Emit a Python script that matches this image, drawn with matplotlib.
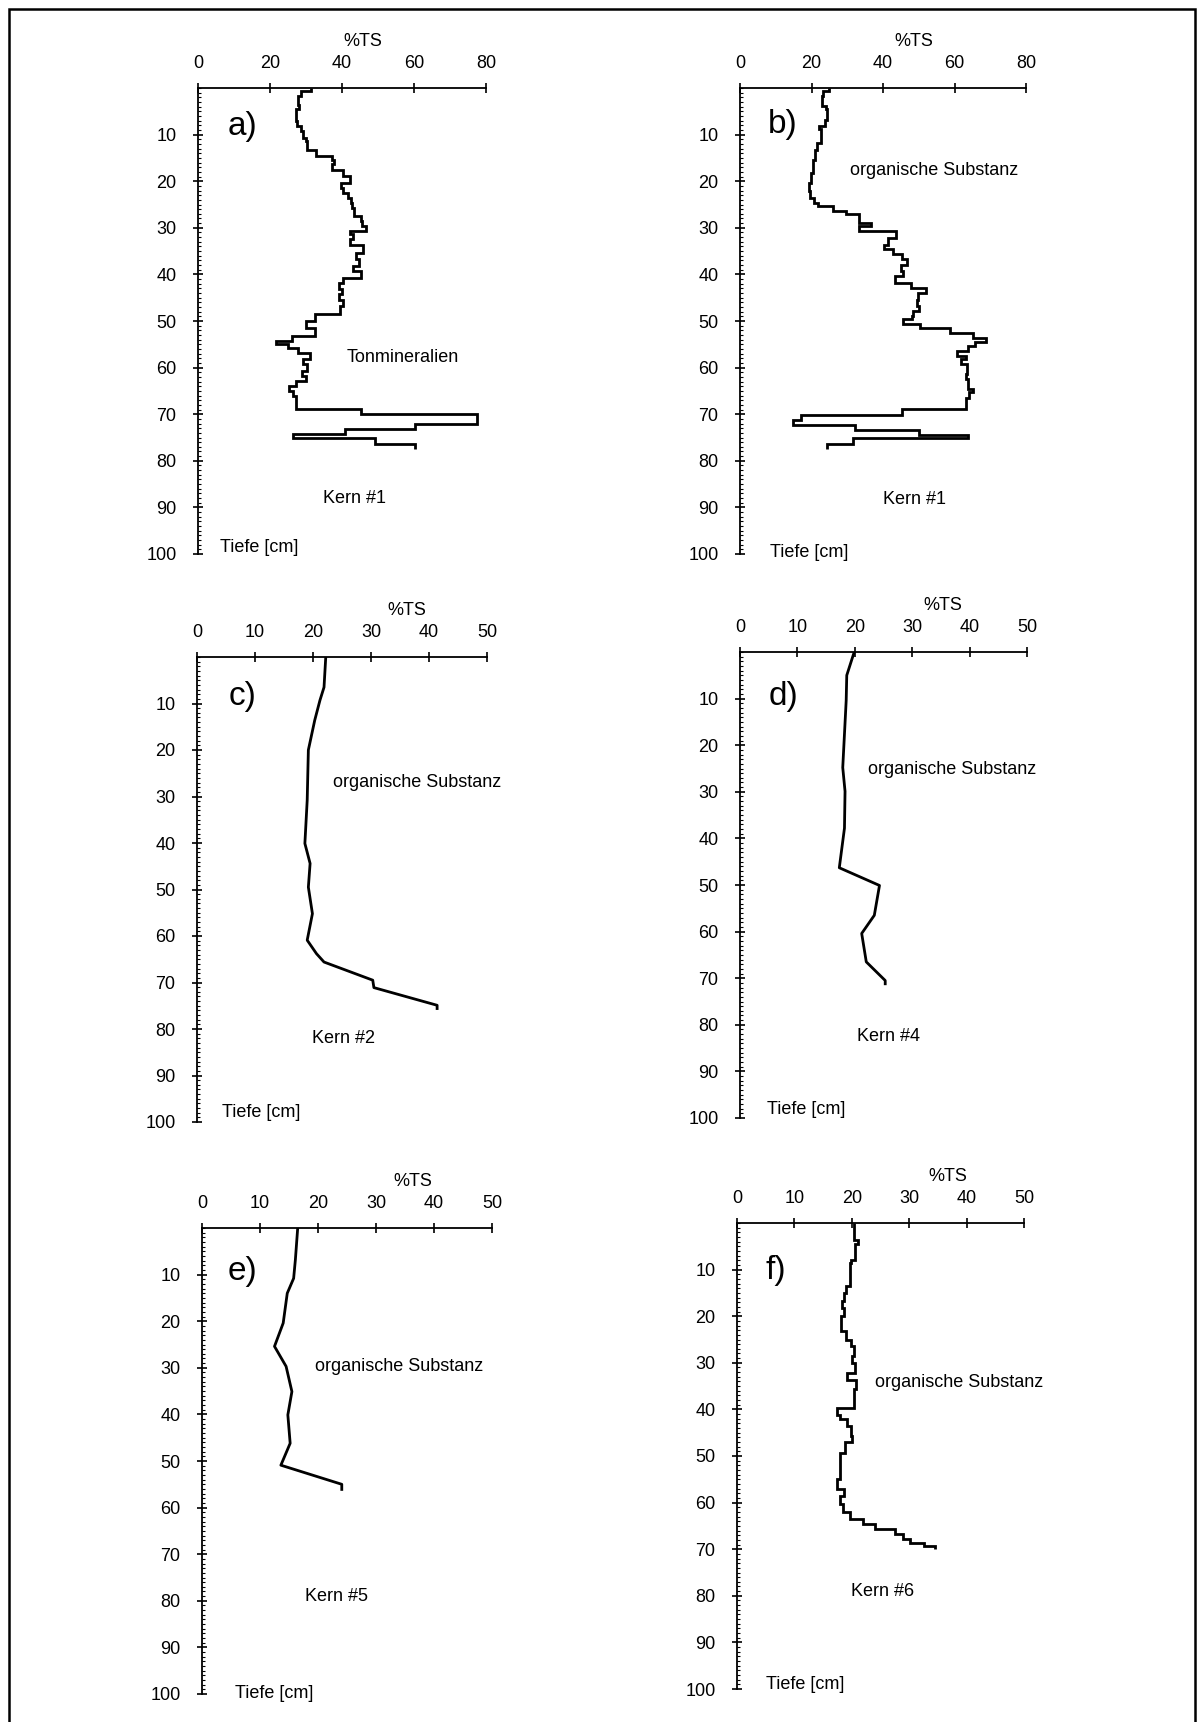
import numpy as np
import matplotlib
matplotlib.use("Agg")
import matplotlib.pyplot as plt
from matplotlib.ticker import MultipleLocator
from matplotlib.patches import Rectangle

plt.rcParams['font.family'] = ['Liberation Sans', 'DejaVu Sans']

# --- data: %TS against depth [cm] ---

# a) Kern #1, Tonmineralien (step profile: layer edges + value per layer)
a_edges = [0, 0.7, 1.8, 3.6, 4.6, 7.1, 8.2, 9.3, 10.7, 11.4,
           13.2, 14.6, 15.4, 16.4, 17.5, 18.9, 20.4, 21.4, 22.5, 23.6,
           24.6, 25.7, 27.5, 28.6, 29.6, 30.7, 31.4, 32.5, 33.6, 35.4,
           36.8, 38.2, 39.3, 40.7, 41.8, 43.2, 44.3, 45.4, 46.8, 48.6,
           50.0, 51.4, 53.2, 54.3, 55.0, 55.7, 56.8, 58.2, 59.3, 60.7,
           61.8, 62.9, 63.9, 65.0, 66.1, 68.9, 70.0, 72.1, 73.2, 74.3,
           75.0, 76.3, 77.5]
a_values = [31.5, 28.7, 27.8, 28.0, 27.2, 27.5, 28.5, 29.2, 29.9, 30.3,
            32.9, 37.1, 37.7, 37.1, 40.3, 42.2, 39.6, 40.3, 41.7, 42.4,
            42.9, 43.3, 45.4, 45.6, 46.6, 42.2, 43.1, 42.2, 45.9, 43.8,
            44.7, 43.1, 45.4, 40.3, 39.2, 40.1, 39.2, 40.3, 39.4, 32.4,
            30.1, 32.4, 26.0, 21.8, 25.0, 27.8, 31.0, 29.2, 30.4, 29.0,
            30.1, 27.3, 25.3, 26.4, 27.3, 45.4, 77.6, 60.2, 40.8, 26.4,
            49.1, 60.2]

# b) Kern #1, organische Substanz (step profile)
b_edges = [0, 0.7, 1.8, 3.9, 4.6, 6.8, 8.2, 8.9, 11.8, 13.2,
           15.4, 18.2, 20.4, 22.1, 23.6, 24.6, 25.4, 26.4, 27.1, 28.9,
           29.6, 30.7, 32.1, 33.6, 34.6, 35.7, 36.8, 37.9, 39.3, 40.4,
           41.8, 42.9, 44.0, 45.4, 46.8, 47.9, 49.0, 49.6, 50.7, 51.4,
           52.5, 53.6, 54.6, 55.4, 56.4, 57.5, 58.2, 59.3, 61.4, 62.5,
           64.5, 65.2, 66.6, 68.8, 70.2, 71.3, 72.4, 73.4, 74.4, 75.2,
           76.5, 77.4]
b_values = [25.0, 23.3, 22.8, 24.1, 24.4, 23.8, 22.2, 22.6, 21.6, 21.0,
            20.3, 19.8, 19.4, 19.6, 20.8, 21.9, 25.9, 29.7, 33.4, 36.6,
            33.4, 43.6, 41.5, 40.3, 42.7, 45.2, 46.6, 45.0, 45.7, 43.4,
            47.7, 52.0, 49.9, 49.4, 50.1, 48.5, 48.0, 45.5, 50.3, 58.7,
            65.3, 68.8, 65.7, 63.9, 60.8, 63.2, 61.7, 63.6, 63.2, 63.9,
            65.1, 64.1, 63.2, 45.2, 17.0, 14.9, 32.2, 50.2, 63.9, 31.7,
            24.4]

# c) Kern #2 (line profile)
c_depth = [0, 6.5, 9.3, 13.6, 20.0, 30.8, 40.1, 44.4, 49.5, 55.2, 60.9, 63.8, 65.6, 69.5, 71.1, 74.9, 75.6]
c_values = [22.2, 21.9, 21.2, 20.3, 19.2, 19.0, 18.6, 19.5, 19.2, 19.9, 19.0, 20.6, 21.9, 30.3, 30.5, 41.4, 41.4]

# d) Kern #4
d_depth = [0, 5.0, 10.4, 24.8, 29.9, 37.8, 46.3, 50.1, 56.5, 60.4, 66.5, 70.5, 71.2]
d_values = [19.9, 18.6, 18.5, 17.9, 18.3, 18.2, 17.3, 24.3, 23.4, 21.2, 22.0, 25.3, 25.3]

# e) Kern #5
e_depth = [0, 6.8, 10.8, 14.0, 20.4, 25.4, 29.7, 35.1, 40.1, 46.2, 50.9, 55.0, 56.1]
e_values = [16.5, 16.1, 15.8, 14.7, 14.0, 12.5, 14.5, 15.5, 14.8, 15.2, 13.6, 24.1, 24.1]

# f) Kern #6 (step profile)
f_edges = [0, 3.6, 4.6, 7.9, 8.6, 13.6, 15.0, 16.8, 18.2, 20.0,
           23.2, 25.0, 26.4, 28.6, 30.0, 32.1, 33.6, 35.7, 39.6, 41.1,
           42.1, 43.6, 45.7, 47.1, 49.3, 52.1, 55.0, 57.1, 58.6, 60.4,
           62.1, 63.6, 64.6, 65.7, 66.8, 67.9, 68.6, 69.3, 70.0]
f_values = [20.4, 21.1, 20.6, 19.9, 19.7, 19.0, 18.7, 18.3, 18.7, 18.1,
            19.0, 19.8, 20.3, 20.0, 20.5, 19.1, 20.8, 20.4, 17.4, 17.9,
            19.1, 19.8, 20.1, 18.9, 18.0, 17.9, 17.5, 18.7, 18.0, 18.4,
            19.7, 22.0, 24.1, 27.6, 28.9, 30.2, 32.5, 34.5]

depth_ticks = list(range(10, 101, 10))

W, H = 1203, 1722
fig = plt.figure(figsize=(W / 100, H / 100), dpi=100)
fig.patch.set_facecolor('white')

FS = 13


def make_axes(box, xmax, xstep):
    # box: pixel x of value 0, pixel x of xmax, pixel y of depth 0, pixel y of depth 100
    x0, x1, yt, yb = box
    ax = fig.add_axes([x0 / W, 1 - yb / H, (x1 - x0) / W, (yb - yt) / H])
    ax.set_xlim(0, xmax)
    ax.set_ylim(100, 0)
    ax.patch.set_alpha(0)
    ax.spines['right'].set_visible(False)
    ax.spines['bottom'].set_visible(False)
    ax.spines['top'].set_linewidth(1.3)
    ax.spines['left'].set_linewidth(1.3)
    ax.xaxis.tick_top()
    ax.set_xticks(np.arange(0, xmax + 1, xstep))
    ax.set_yticks(depth_ticks)
    ax.yaxis.set_minor_locator(MultipleLocator(1))
    ax.tick_params(axis='both', which='major', direction='inout', length=7,
                   width=1.2, labelsize=FS, colors='k')
    ax.tick_params(axis='y', which='major', pad=12)
    ax.tick_params(axis='x', which='major', pad=8)
    ax.tick_params(axis='y', which='minor', direction='in', length=2.5, width=0.8)
    return ax


panels = [
    # box, xmax, step, letter, letter pos, TS x, text, text pos, kern, kern pos, tiefe pos
    ((198, 486, 88, 554), 80, 20, 'a)', (8.3, 8.2), 45.7, 'Tonmineralien', (41.3, 57.9),
     'Kern #1', (34.8, 88.1), (6.1, 98.7)),
    ((740, 1026, 88, 554), 80, 20, 'b)', (7.8, 7.9), 48.6, 'organische Substanz', (30.7, 17.6),
     'Kern #1', (40.0, 88.4), (8.4, 99.7)),
    ((197, 487, 657, 1122), 50, 10, 'c)', (5.5, 8.5), 36.2, 'organische Substanz', (23.5, 27.0),
     'Kern #2', (19.8, 82.0), (4.3, 98.0)),
    ((740, 1027, 652, 1118), 50, 10, 'd)', (4.9, 9.6), 35.4, 'organische Substanz', (22.3, 25.3),
     'Kern #4', (20.3, 82.5), (4.7, 98.2)),
    ((202, 492, 1228, 1694), 50, 10, 'e)', (4.5, 9.4), 36.4, 'organische Substanz', (19.5, 29.8),
     'Kern #5', (17.8, 79.1), (5.7, 99.8)),
    ((737, 1024, 1223, 1689), 50, 10, 'f)', (4.9, 10.1), 36.8, 'organische Substanz', (24.0, 34.3),
     'Kern #6', (19.9, 79.0), (5.0, 99.0)),
]

axes = []
for box, xmax, step, letter, lpos, tsx, txt, tpos, kern, kpos, tpos2 in panels:
    ax = make_axes(box, xmax, step)
    ax.text(lpos[0], lpos[1], letter, fontsize=24, ha='left', va='center')
    ax.text(tsx, -10, '%TS', fontsize=FS, ha='center', va='center')
    ax.text(tpos[0], tpos[1], txt, fontsize=FS, ha='left', va='center')
    ax.text(kpos[0], kpos[1], kern, fontsize=FS, ha='left', va='center')
    ax.text(tpos2[0], tpos2[1], 'Tiefe [cm]', fontsize=FS, ha='left', va='center')
    axes.append(ax)

line_kw = dict(color='black', linewidth=2.0)
axes[0].stairs(a_values, a_edges, orientation='horizontal', baseline=None, **line_kw)
axes[1].stairs(b_values, b_edges, orientation='horizontal', baseline=None, **line_kw)
axes[2].plot(c_values, c_depth, **line_kw)
axes[3].plot(d_values, d_depth, **line_kw)
axes[4].plot(e_values, e_depth, **line_kw)
axes[5].stairs(f_values, f_edges, orientation='horizontal', baseline=None, **line_kw)

# outer frame of the printed figure
fig.add_artist(Rectangle((9 / W, -0.05), (1195 - 9) / W, 1.05 - 9 / H,
                         transform=fig.transFigure, fill=False,
                         edgecolor='black', linewidth=1.8))

fig.savefig('out.png', dpi=100, facecolor='white')
